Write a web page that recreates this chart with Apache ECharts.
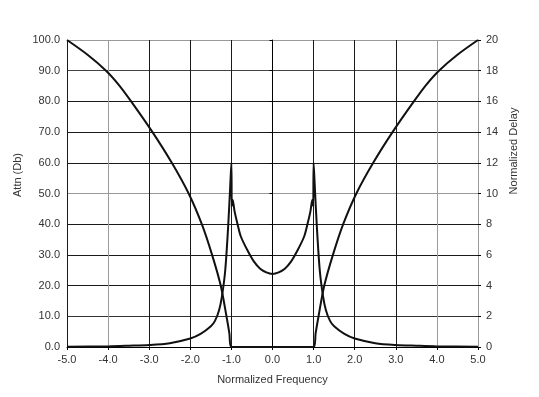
<!DOCTYPE html>
<html>
<head>
<meta charset="utf-8">
<script src="https://cdn.jsdelivr.net/npm/echarts@6/dist/echarts.min.js"></script>
<style>
  html, body { margin: 0; padding: 0; background: #fff; }
  #chart { width: 539px; height: 397px; }
</style>
</head>
<body>
<div id="chart"></div>
<script>
// attenuation (left axis, dB)
const attnFreq = [-5, -4.5, -4.05, -3.74, -3.44, -2.92, -2.45, -2.04, -1.72, -1.47, -1.26, -1.12, -1.05, -1.0,
                  1.0, 1.05, 1.12, 1.26, 1.47, 1.72, 2.04, 2.45, 2.92, 3.44, 3.74, 4.05, 4.5, 5]
const attnVals = [100, 95.2, 90, 85.4, 80, 70, 60, 50, 40, 30, 20, 10, 4.5, 0,
                  0, 4.5, 10, 20, 30, 40, 50, 60, 70, 80, 85.4, 90, 95.2, 100]

// normalized delay (right axis)
const delayFreq = [-5, -4, -3.5, -3, -2.5, -2, -1.75, -1.5, -1.4, -1.3, -1.23, -1.15, -1.08, -1.03, -1.0, -0.99, -0.97,
                   -0.92, -0.85, -0.77, -0.61, -0.45, -0.3, -0.15, 0,
                   0.15, 0.3, 0.45, 0.61, 0.77, 0.85, 0.92,
                   0.97, 0.99, 1.0, 1.03, 1.08, 1.15, 1.23, 1.3, 1.4, 1.5, 1.75, 2, 2.5, 3, 3.5, 4, 5]
const delayVals = [0.01, 0.04, 0.08, 0.13, 0.25, 0.55, 0.85, 1.35, 1.7, 2.4, 3.3, 5.0, 7.8, 10.4, 12, 9.2, 9.6,
                   8.8, 8, 7.2, 6.3, 5.56, 5.1, 4.86, 4.76,
                   4.86, 5.1, 5.56, 6.3, 7.2, 8, 8.8,
                   9.6, 9.2, 12, 10.4, 7.8, 5.0, 3.3, 2.4, 1.7, 1.35, 0.85, 0.55, 0.25, 0.13, 0.08, 0.04, 0.01]

const xTicks = [-5, 5, 1]
const leftTicks = [0, 100, 10]
const rightTicks = [0, 20, 2]

const pairs = (xs, ys) => xs.map((x, i) => [x, ys[i]])

const font = "'Liberation Sans Narrow', 'Liberation Sans', Arial, sans-serif"
const dark = "#1a1a1a", grey = "#9a9a9a"

const chart = echarts.init(document.getElementById("chart"))
chart.setOption({
  animation: false,
  grid: {left: 67, right: 61, top: 40, bottom: 50},
  xAxis: {
    type: "value",
    min: xTicks[0], max: xTicks[1], interval: xTicks[2],
    name: "Normalized Frequency",
    nameLocation: "middle",
    nameGap: 27,
    nameTextStyle: {fontFamily: font, fontSize: 11, color: "#333"},
    axisLine: {lineStyle: {color: "#000", width: 1}},
    axisTick: {show: true, length: 3, lineStyle: {color: "#000"}},
    axisLabel: {fontFamily: font, fontSize: 11, color: "#333", margin: 7, formatter: v => v.toFixed(1)},
    splitLine: {show: true, lineStyle: {width: 1,
      color: [dark, grey, dark, dark, dark, grey, dark, dark, dark, grey, grey]}}
  },
  yAxis: [
    {
      type: "value",
      min: leftTicks[0], max: leftTicks[1], interval: leftTicks[2],
      axisLine: {show: true, lineStyle: {color: "#000", width: 1}},
      axisTick: {show: true, length: 3, lineStyle: {color: "#000"}},
      axisLabel: {fontFamily: font, fontSize: 11, color: "#333", margin: 7, formatter: v => v.toFixed(1)},
      splitLine: {show: true, lineStyle: {width: 1,
        color: [dark, "#333", dark, dark, dark, grey, dark, dark, dark, "#444", grey]}}
    },
    {
      type: "value",
      min: rightTicks[0], max: rightTicks[1], interval: rightTicks[2],
      axisLine: {show: true, lineStyle: {color: grey, width: 1}},
      axisTick: {show: true, length: 3, lineStyle: {color: "#000"}},
      axisLabel: {fontFamily: font, fontSize: 11, color: "#333", margin: 8},
      splitLine: {show: false}
    }
  ],
  graphic: [
    {type: "text", x: 18, y: 175, rotation: Math.PI / 2,
      style: {text: "Attn (Db)", font: "11px " + font, fill: "#333", align: "center", verticalAlign: "middle"}},
    {type: "text", x: 514, y: 151, rotation: Math.PI / 2,
      style: {text: "Normalized Delay", font: "11px " + font, fill: "#333", align: "center", verticalAlign: "middle"}}
  ],
  series: [
    {
      name: "Attn",
      type: "line",
      yAxisIndex: 0,
      data: pairs(attnFreq, attnVals),
      showSymbol: false,
      smooth: 0.3,
      smoothConstraint: false,
      lineStyle: {color: "#111", width: 2}
    },
    {
      name: "Delay",
      type: "line",
      yAxisIndex: 1,
      data: pairs(delayFreq, delayVals),
      showSymbol: false,
      smooth: 0.3,
      lineStyle: {color: "#111", width: 2}
    }
  ]
})
</script>
</body>
</html>
